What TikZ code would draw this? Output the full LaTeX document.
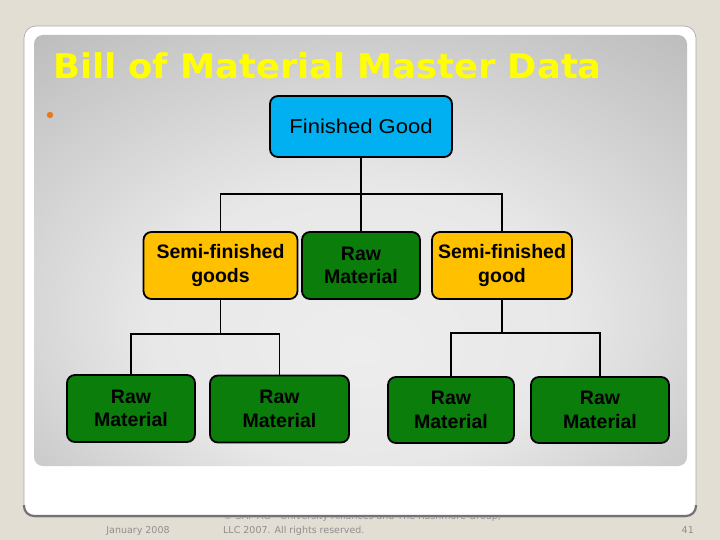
\documentclass[tikz,border=0pt]{standalone}
\usepackage{fontspec}
\setmainfont{Liberation Sans}
\newfontfamily\titlefont{DejaVu Sans}
\newfontfamily\footfont{DejaVu Sans}
\definecolor{bgbeige}{HTML}{E3DED4}
\definecolor{fgblue}{HTML}{00B0F0}
\definecolor{semiyellow}{HTML}{FFC000}
\definecolor{rawgreen}{HTML}{0A7D0A}
\definecolor{titleyellow}{HTML}{FFFF00}
\definecolor{bulletorange}{HTML}{E8781E}
\definecolor{footgray}{HTML}{8E8E8E}
\definecolor{panellight}{HTML}{EDEDED}
\definecolor{panelmid}{HTML}{D4D4D4}
\definecolor{paneldark}{HTML}{A6A6A6}
\pgfdeclareradialshading{panelshade}{\pgfpoint{0bp}{-12bp}}{%
  color(0bp)=(panellight); color(16bp)=(panellight!80!panelmid); color(36bp)=(panelmid!60!paneldark); color(50bp)=(paneldark); color(60bp)=(paneldark)}
\tikzset{
  bomnode/.style={draw=black, line width=1.8pt, rounded corners=8pt, align=center,
    inner sep=0pt, text=black, font=\bfseries\fontsize{19.5}{23.5}\selectfont},
  fgbox/.style={bomnode, fill=fgblue, font=\fontsize{20}{23}\selectfont},
  semibox/.style={bomnode, fill=semiyellow},
  rawbox/.style={bomnode, fill=rawgreen},
  link/.style={draw=black, line width=1.6pt},
  foot/.style={text=footgray, font=\footfont\fontsize{9.5}{11}\selectfont, inner sep=0pt}
}
\begin{document}
\begin{tikzpicture}[x=1pt,y=-1pt]
\useasboundingbox (0,0) rectangle (720,540);
\fill[bgbeige] (0,0) rectangle (720,540);
% footer (first line partly hidden by the panel)
\node[foot, anchor=base west] (copy1) at (223,519) {© SAP AG - University Alliances and The Rushmore Group,};
\node[foot, anchor=base west] (copy2) at (223,533) {LLC 2007. All rights reserved.};
\node[foot, anchor=base] (date) at (138,533) {January 2008};
\node[foot, anchor=base east] (page) at (694,533) {41};
% white panel
\fill[white, rounded corners=12pt] (24,26) rectangle (696,517);
\draw[gray!70, line width=0.6pt, rounded corners=12pt] (24,26) rectangle (696,517);
\draw[gray!90!black, line width=2.2pt, rounded corners=10pt] (24,505) -- (24,516) -- (696,516) -- (696,505);
% inner gradient panel
\shade[shading=panelshade, rounded corners=9pt] (34,35) rectangle (687,466);
% title
\node[anchor=base west, inner sep=0pt, text=titleyellow, font=\titlefont\bfseries\fontsize{34}{36}\selectfont] (title) at (53,79) {\scalebox{1.037}[1]{Bill of Material Master Data}};
\fill[bulletorange] (50,115) circle (3.2);
% boxes
\node[fgbox, minimum width=182pt, minimum height=61pt] (fg) at (361,126.5) {\scalebox{1.1}[1]{Finished Good}};
\node[semibox, minimum width=154pt, minimum height=67pt] (sg1) at (220.5,265.5) {Semi-finished\\goods};
\node[rawbox, minimum width=118pt, minimum height=67pt] (rm0) at (361,265.5) {Raw\\Material};
\node[semibox, minimum width=140pt, minimum height=67pt] (sg2) at (502,265.5) {Semi-finished\\good};
\node[rawbox, minimum width=128pt, minimum height=67pt] (r1) at (131,408.5) {Raw\\Material};
\node[rawbox, minimum width=139pt, minimum height=67pt] (r2) at (279.5,409) {Raw\\Material};
\node[rawbox, minimum width=126pt, minimum height=66pt] (r3) at (451,410) {Raw\\Material};
\node[rawbox, minimum width=138pt, minimum height=66pt] (r4) at (600,410) {Raw\\Material};
% junctions
\coordinate (j0) at (361,194);
\coordinate (j1) at (221,334);
\coordinate (j2) at (504,333);
% connectors
\draw[link] (fg.south) -- (rm0.north);
\draw[link] (sg1.north) -- (sg1.north |- j0) -- (sg2.north |- j0) -- (sg2.north);
\draw[link] (sg1.south) -- (sg1.south |- j1);
\draw[link] (r1.north) -- (r1.north |- j1) -- (r2.north |- j1) -- (r2.north);
\draw[link] (sg2.south) -- (sg2.south |- j2);
\draw[link] (r3.north) -- (r3.north |- j2) -- (r4.north |- j2) -- (r4.north);
\end{tikzpicture}
\end{document}
